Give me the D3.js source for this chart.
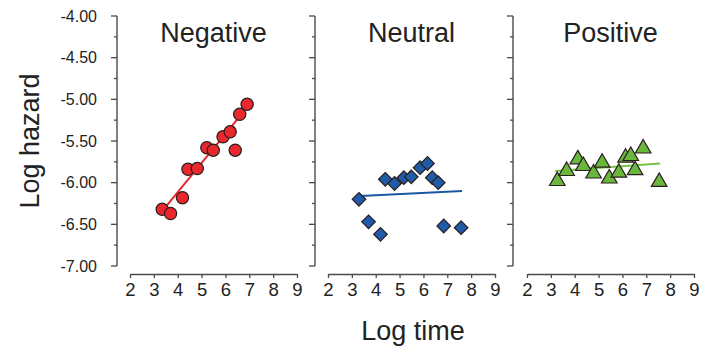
<!DOCTYPE html>
<html>
<head>
<meta charset="utf-8">
<script src="https://cdn.jsdelivr.net/npm/d3@7/dist/d3.min.js"></script>
<style>
  body { margin: 0; background: #fff; }
  svg { font-family: "Liberation Sans", Arial, sans-serif; }
</style>
</head>
<body>
<div id="chart"></div>
<script>
// panel names and tick labels
const panels = ["Negative", "Neutral", "Positive"];
const xTicks = [2, 3, 4, 5, 6, 7, 8, 9];
const yTicks = [-4, -4.5, -5, -5.5, -6, -6.5, -7];

// Negative group (circles)
const negX = [3.35, 3.70, 4.20, 4.43, 4.82, 5.22, 5.49, 5.90, 6.20, 6.41, 6.60, 6.91];
const negY = [-6.32, -6.37, -6.18, -5.84, -5.83, -5.58, -5.61, -5.45, -5.39, -5.61, -5.18, -5.06];
const negFit = [[3.47, -6.30], [6.73, -5.16]];

// Neutral group (diamonds)
const neuX = [3.30, 3.70, 4.20, 4.40, 4.79, 5.18, 5.49, 5.86, 6.17, 6.37, 6.62, 6.85, 7.58];
const neuY = [-6.20, -6.47, -6.62, -5.96, -6.01, -5.94, -5.93, -5.82, -5.77, -5.94, -6.00, -6.52, -6.54];
const neuFit = [[3.37, -6.16], [7.62, -6.10]];

// Positive group (triangles)
const posX = [3.27, 3.66, 4.13, 4.36, 4.79, 5.15, 5.45, 5.85, 6.13, 6.35, 6.53, 6.87, 7.54];
const posY = [-5.98, -5.86, -5.72, -5.80, -5.89, -5.76, -5.95, -5.88, -5.70, -5.68, -5.85, -5.59, -5.99];
const posFit = [[3.18, -5.86], [7.58, -5.77]];

const W = 716, H = 347;
const svg = d3.select("#chart").append("svg")
  .attr("width", W).attr("height", H);

const axisColor = "#4a4a4a";
const textColor = "#222";

const y = d3.scaleLinear().domain([-7, -4]).range([266, 16]);

const groups = [
  { name: panels[0], xs: negX, ys: negY, fit: negFit, shape: d3.symbolCircle, size: 118, rot: 0,
    fill: "#e8282c", line: "#e8282c", yAxisX: 117, xRange: [130, 297] },
  { name: panels[1], xs: neuX, ys: neuY, fit: neuFit, shape: d3.symbolSquare, size: 92, rot: 45,
    fill: "#1f5ba8", line: "#1b56a3", yAxisX: 315, xRange: [328, 495] },
  { name: panels[2], xs: posX, ys: posY, fit: posFit, shape: d3.symbolTriangle, size: 105, rot: 0,
    fill: "#69b83d", line: "#78c14b", yAxisX: 513, xRange: [527, 694] }
];

groups.forEach((g, i) => {
  const x = d3.scaleLinear().domain([2, 9]).range(g.xRange);

  // y axis: major ticks every 0.5, minor every 0.25
  const yAxis = svg.append("g").attr("transform", `translate(${g.yAxisX},0)`);
  yAxis.append("line")
    .attr("y1", y(-4)).attr("y2", y(-7))
    .attr("stroke", axisColor).attr("stroke-width", 1.4);
  const minor = d3.range(-7, -3.99, 0.25);
  yAxis.selectAll("line.tk").data(minor).enter().append("line")
    .attr("class", "tk")
    .attr("x1", d => (Math.abs(d * 2 - Math.round(d * 2)) < 1e-6) ? -6 : -3)
    .attr("x2", 0)
    .attr("y1", d => y(d)).attr("y2", d => y(d))
    .attr("stroke", axisColor).attr("stroke-width", 1.3);
  if (i === 0) {
    yAxis.selectAll("text").data(yTicks).enter().append("text")
      .attr("x", -20).attr("y", d => y(d))
      .attr("dy", "0.36em")
      .attr("text-anchor", "end")
      .attr("font-size", 16)
      .attr("fill", textColor)
      .text(d => d.toFixed(2));
  }

  // x axis, detached below the plot
  const xAxis = svg.append("g").attr("transform", "translate(0,274)")
    .call(d3.axisBottom(x).tickValues(xTicks).tickFormat(d => String(d))
      .tickSize(4).tickSizeOuter(0).tickPadding(5));
  xAxis.select(".domain").attr("stroke", axisColor).attr("stroke-width", 1.4);
  xAxis.selectAll(".tick line").attr("stroke", axisColor).attr("stroke-width", 1.3);
  xAxis.selectAll(".tick text")
    .attr("font-size", 18.5).attr("fill", textColor)
    .attr("font-family", "Liberation Sans, Arial, sans-serif");

  // panel title
  svg.append("text")
    .attr("x", (g.xRange[0] + g.xRange[1]) / 2).attr("y", 42)
    .attr("text-anchor", "middle")
    .attr("font-size", 27).attr("fill", textColor)
    .text(g.name);

  // fit line
  svg.append("line")
    .attr("x1", x(g.fit[0][0])).attr("y1", y(g.fit[0][1]))
    .attr("x2", x(g.fit[1][0])).attr("y2", y(g.fit[1][1]))
    .attr("stroke", g.line).attr("stroke-width", 2);

  // markers
  const pts = g.xs.map((v, k) => [v, g.ys[k]]);
  svg.append("g").selectAll("path").data(pts).enter().append("path")
    .attr("d", d3.symbol().type(g.shape).size(g.size))
    .attr("transform", d => `translate(${x(d[0])},${y(d[1])}) rotate(${g.rot})`)
    .attr("fill", g.fill)
    .attr("stroke", "#2a1e1e").attr("stroke-width", 1.2);
});

// axis titles
svg.append("text")
  .attr("transform", "translate(39,141) rotate(-90)")
  .attr("text-anchor", "middle")
  .attr("font-size", 27).attr("fill", textColor)
  .text("Log hazard");

svg.append("text")
  .attr("x", 413).attr("y", 340)
  .attr("text-anchor", "middle")
  .attr("font-size", 27).attr("fill", textColor)
  .text("Log time");
</script>
</body>
</html>
